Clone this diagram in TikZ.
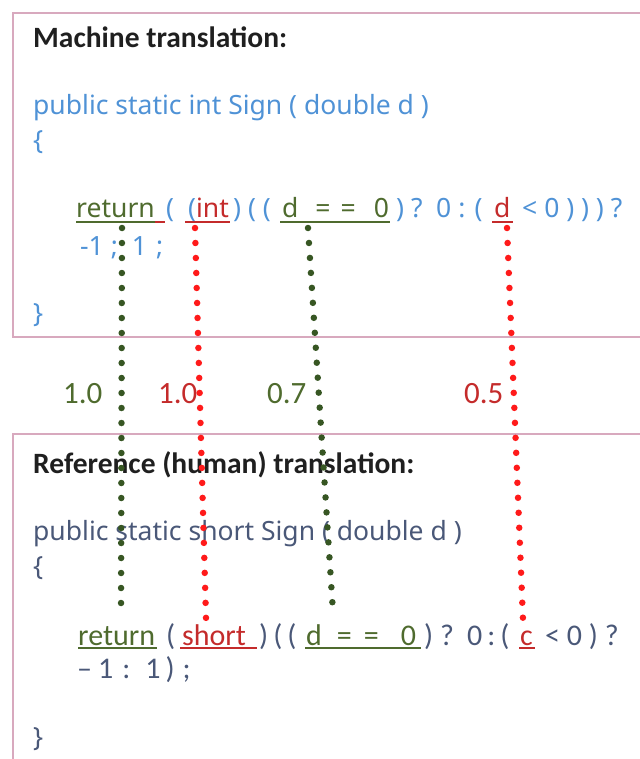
\documentclass[tikz,border=0pt]{standalone}
\usepackage{fontspec}
\setmainfont{Carlito}
\newfontfamily\codefont{Noto Sans}
\usetikzlibrary{calc}
\definecolor{boxpink}{HTML}{D8A9BE}
\definecolor{codeblue}{HTML}{4F92D6}
\definecolor{refgray}{HTML}{4A5878}
\definecolor{okgreen}{HTML}{4F6B2E}
\definecolor{dotgreen}{HTML}{375623}
\definecolor{badred}{HTML}{C42B2B}
\definecolor{dotred}{HTML}{FF1A1A}
\begin{document}
\begin{tikzpicture}[x=1pt,y=-1pt,
  title/.style={inner sep=0,anchor=base west,font=\bfseries\fontsize{29.5}{34}\selectfont,text=black!88},
  mcode/.style={inner sep=0,anchor=base west,font=\codefont\fontsize{26.5}{30}\selectfont,text=codeblue},
  hcode/.style={inner sep=0,anchor=base west,font=\codefont\fontsize{26.5}{30}\selectfont,text=refgray},
  hret/.style={inner sep=0,anchor=base west,font=\fontsize{30}{36}\selectfont,text=refgray},
  score/.style={inner sep=0,anchor=base west,font=\fontsize{31}{36}\selectfont},
  frame/.style={draw=boxpink,line width=1.6pt},
  uline/.style={line width=2.2pt},
  match/.style={line width=6.5pt,line cap=round,dash pattern=on 0pt off 15pt},
]
\useasboundingbox (0,0) rectangle (639,759);

% frames of the two panels
\draw[frame] (640,13) -- (13,13) -- (13,337) -- (640,337);
\draw[frame] (640,434) -- (13,434) -- (13,760);

% machine translation
\node[title] (t1) at (33,48) {Machine translation:};
\node[mcode] (sig1) at (33,115) {public static int Sign ( double d )};
\node[mcode] (ob1) at (33,150) {\{};
\node[mcode,text=okgreen] (ret1) at (76,218) {return};
\node[mcode] (p1) at (166,218) {(};
\node[mcode,text=badred] (int1) at (188,218) {{\color{codeblue}(}int};
\node[mcode] (p2) at (233,218) {) ( (};
\node[mcode,text=okgreen] (eq1) at (282,218) {d\hspace{17pt}=\hspace{10pt}=\hspace{18pt}0};
\node[mcode] (p3) at (396,218) {) ?};
\node[mcode] (p4) at (436,218) {0 : (};
\node[mcode,text=badred] (d1) at (494,218) {d};
\node[mcode] (p5) at (522,218) {< 0 ) ) ) ?};
\node[mcode] (l2a) at (80,255) {-1\hspace{7pt};\hspace{14pt}1\hspace{9pt};};
\node[mcode] (cb1) at (33,322) {\}};

% underlines of the machine tokens
\draw[uline,okgreen] ($(ret1.base west)+(0,4)$) -- ($(ret1.base west)+(79,4)$);
\draw[uline,badred] ($(ret1.base west)+(79,4)$) -- ($(ret1.base west)+(89,4)$);
\draw[uline,badred] ($(int1.base west)+(-3,4)$) -- ($(int1.base east)+(1,4)$);
\draw[uline,okgreen] ($(eq1.base west)+(-2,4)$) -- ($(eq1.base east)+(1,4)$);
\draw[uline,badred] ($(d1.base west)+(-2,4)$) -- ($(d1.base east)+(2,4)$);

% scores
\node[score,text=okgreen] (s1) at (63,403) {1.0};
\node[score,text=badred] (s2) at (158,403) {1.0};
\node[score,text=okgreen] (s3) at (267,403) {0.7};
\node[score,text=badred] (s4) at (464,403) {0.5};

% reference translation
\node[title] (t2) at (33,473) {Reference (human) translation:};
\node[hcode] (sig2) at (33,540) {public static short Sign ( double d )};
\node[hcode] (ob2) at (33,575) {\{};
\node[hret,text=okgreen] (ret2) at (78,645) {return};
\node[hret] (q1) at (166,645) {(};
\node[hret,text=badred] (sh2) at (182,645) {short};
\node[hret] (q2) at (259,645) {)\,(\,(};
\node[hret,text=okgreen] (eq2) at (306,645) {d\hspace{15pt}=\hspace{12pt}=\hspace{22pt}0};
\node[hret] (q3) at (424,645) {) ?};
\node[hret] (q4) at (467,645) {0\,:\,(};
\node[hret,text=badred] (c2) at (520,645) {c};
\node[hret] (q5) at (545,645) {< 0 ) ?};
\node[hret] (l2b) at (77,678) {--\hspace{6pt}1\hspace{9pt}:\hspace{15pt}1\hspace{5pt})\hspace{8pt};};
\node[hcode] (cb2) at (33,746) {\}};

% underlines of the reference tokens
\draw[uline,okgreen] ($(ret2.base west)+(0,3)$) -- ($(ret2.base east)+(2,3)$);
\draw[uline,badred] ($(sh2.base west)+(-2,3)$) -- ($(sh2.base west)+(75,3)$);
\draw[uline,okgreen] ($(eq2.base west)+(-1,3)$) -- ($(eq2.base east)+(5,3)$);
\draw[uline,badred] ($(c2.base west)+(-1,3)$) -- ($(c2.base east)+(2,3)$);

% dotted links between matched tokens
\draw[match,dotgreen] ($(ret1.base west)+(46,10)$) -- ($(ret2.base west)+(43,-32)$);
\draw[match,dotred] ($(int1.base west)+(7,10)$) -- ($(sh2.base west)+(24,-27)$);
\draw[match,dotgreen] ($(eq1.base west)+(26,10)$) -- ($(eq2.base west)+(27,-33)$);
\draw[match,dotred] ($(d1.base west)+(13,10)$) -- ($(c2.base west)+(3,-25)$);
\end{tikzpicture}
\end{document}
